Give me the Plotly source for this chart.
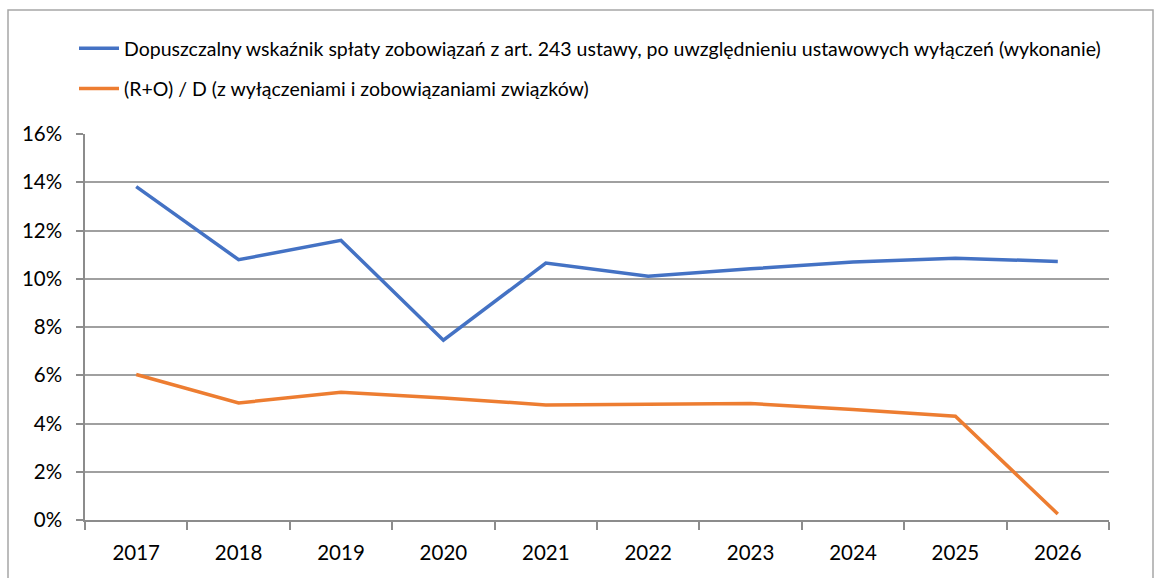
import plotly.graph_objects as go

years = ["2017", "2018", "2019", "2020", "2021", "2022", "2023", "2024", "2025", "2026"]
blue_name = "Dopuszczalny wskaźnik spłaty zobowiązań z art. 243 ustawy, po uwzględnieniu ustawowych wyłączeń (wykonanie)"
orange_name = "(R+O) / D (z wyłączeniami i zobowiązaniami związków)"
blue_vals = [13.82, 10.79, 11.59, 7.45, 10.65, 10.10, 10.41, 10.69, 10.85, 10.72]
orange_vals = [6.03, 4.85, 5.30, 5.06, 4.77, 4.80, 4.83, 4.58, 4.30, 0.25]
y_ticks = [0, 2, 4, 6, 8, 10, 12, 14, 16]
y_tick_text = ["0%", "2%", "4%", "6%", "8%", "10%", "12%", "14%", "16%"]

W, H = 1154, 578
L, R, T, B = 85, 1109, 134, 520
pw, ph = R - L, B - T

def px(x):
    return (x - L) / pw

def py(y):
    return (B - y) / ph

fig = go.Figure()
fig.add_trace(go.Scatter(x=years, y=blue_vals, mode="lines", name=blue_name,
                         line=dict(color="#4472C4", width=3.5), legendgroup="a"))
fig.add_trace(go.Scatter(x=years, y=orange_vals, mode="lines", name=orange_name,
                         line=dict(color="#ED7D31", width=3.5), legendgroup="b"))

grid = "#a0a0a0"
axis = "#8c8c8c"
fig.update_layout(
    width=W, height=H,
    margin=dict(l=L, r=W - R, t=T, b=H - B, pad=0),
    paper_bgcolor="white", plot_bgcolor="white",
    font=dict(family="Lato, Calibri, sans-serif", color="#000000"),
    showlegend=True,
    legend=dict(orientation="v", x=px(74), y=py(29), xanchor="left", yanchor="top",
                font=dict(size=19.5, color="#000000"), traceorder="grouped",
                tracegroupgap=12, bgcolor="rgba(0,0,0,0)", itemwidth=40),
    xaxis=dict(type="category", range=[-0.5, 9.5], showgrid=False, showline=True,
               linecolor=axis, linewidth=1.5,
               ticks="outside", tickson="boundaries", ticklen=8, tickcolor=axis, tickwidth=1.5,
               tickfont=dict(size=20.5), ticklabelstandoff=14, fixedrange=True),
    yaxis=dict(range=[0, 16], tickvals=y_ticks, ticktext=y_tick_text, showgrid=True,
               gridcolor=grid, gridwidth=1.5, showline=True, linecolor=axis, linewidth=1.5,
               ticks="outside", ticklen=7, tickcolor=axis, tickwidth=1.5,
               tickfont=dict(size=20.5), ticklabelstandoff=10, zeroline=False, fixedrange=True),
    shapes=[dict(type="rect", xref="paper", yref="paper",
                 x0=px(8), x1=px(1153), y0=py(590), y1=py(10),
                 line=dict(color="#a6a6a6", width=1.5), fillcolor="rgba(0,0,0,0)", layer="below")],
)

fig.write_html("out.html", config={"displayModeBar": False},
               post_script="document.body.style.margin='0';document.body.style.overflow='hidden';")
